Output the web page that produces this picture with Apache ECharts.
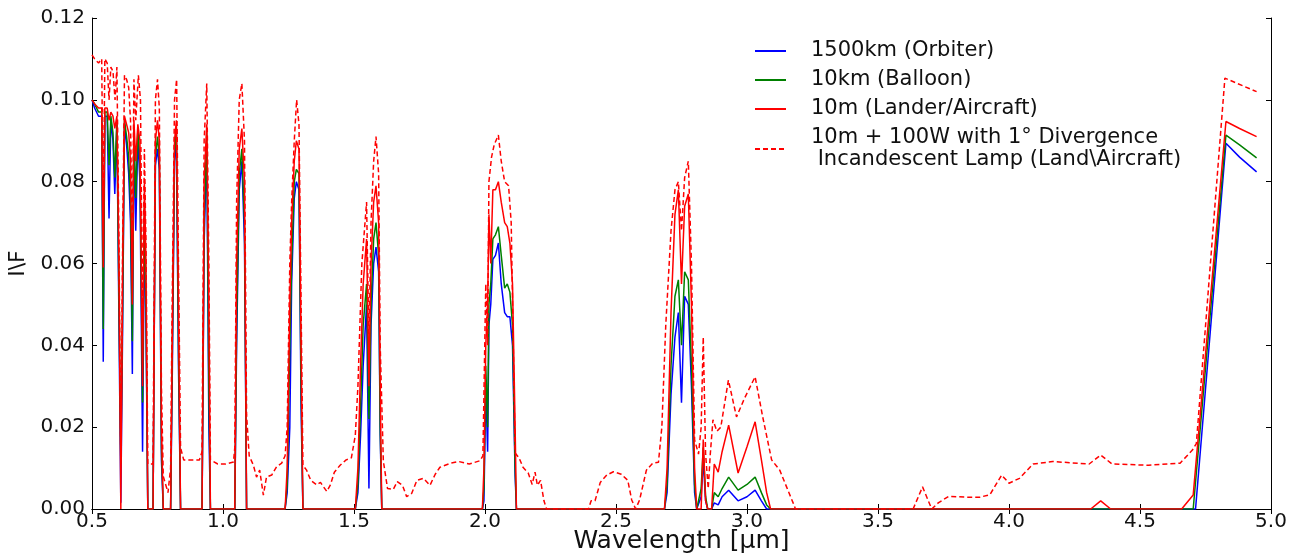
<!DOCTYPE html>
<html>
<head>
<meta charset="utf-8">
<script src="https://cdn.jsdelivr.net/npm/echarts@6/dist/echarts.min.js"></script>
<style>
html,body{margin:0;padding:0;background:#fff;}
#chart{width:1299px;height:555px;}
</style>
</head>
<body>
<div id="chart"></div>
<script>
// Wavelength grid (µm) shared by the three solid curves
const wavelengthSolid = [
0.500,0.510,0.525,0.537,0.543,0.549,0.558,0.565,0.572,0.580,
0.587,0.595,0.603,0.610,0.617,0.624,0.632,0.640,0.647,0.654,
0.660,0.667,0.675,0.683,0.693,0.700,0.706,0.713,0.733,0.742,
0.750,0.757,0.765,0.772,0.800,0.806,0.815,0.822,0.830,0.838,
0.920,0.928,0.938,0.946,0.952,1.045,1.052,1.062,1.072,1.082,
1.090,1.237,1.245,1.255,1.262,1.272,1.280,1.290,1.298,1.305,
1.505,1.515,1.525,1.535,1.548,1.557,1.565,1.575,1.584,1.594,
1.600,1.606,1.990,1.996,2.003,2.010,2.015,2.022,2.030,2.040,
2.051,2.062,2.075,2.085,2.095,2.105,2.115,2.120,2.685,2.695,
2.710,2.725,2.738,2.750,2.762,2.776,2.788,2.800,2.808,2.825,
2.833,2.842,2.850,2.865,2.875,2.890,2.905,2.930,2.966,3.000,
3.031,3.055,3.075,3.090,4.312,4.350,4.388,4.659,4.703,4.712,
4.828,4.880,4.945
];

// 1500km (Orbiter)
const orbiter = [
0.100,0.098,0.096,0.096,0.036,0.096,0.096,0.071,0.095,0.090,
0.077,0.094,0.045,0.0015,0.045,0.094,0.089,0.082,0.070,0.033,
0.092,0.068,0.091,0.080,0.014,0.070,0.045,0.000,0.000,0.084,
0.088,0.083,0.012,0.000,0.000,0.030,0.085,0.090,0.035,0.000,
0.000,0.065,0.089,0.020,0.000,0.000,0.040,0.078,0.085,0.065,
0.000,0.000,0.004,0.020,0.055,0.076,0.080,0.078,0.025,0.000,
0.000,0.004,0.018,0.035,0.050,0.005,0.045,0.060,0.064,0.058,
0.018,0.000,0.000,0.002,0.030,0.014,0.045,0.050,0.061,0.062,
0.065,0.055,0.048,0.047,0.047,0.040,0.008,0.000,0.000,0.004,
0.028,0.042,0.048,0.026,0.052,0.050,0.030,0.004,0.000,0.003,
0.012,0.002,0.000,0.000,0.0015,0.001,0.003,0.0046,0.002,0.003,
0.0046,0.002,0.000,0.000,0.000,0.000,0.000,0.000,0.000,0.000,
0.0894,0.086,0.0824
];

// 10km (Balloon)
const balloon = [
0.100,0.099,0.097,0.097,0.044,0.097,0.097,0.084,0.096,0.092,
0.081,0.095,0.050,0.011,0.050,0.095,0.091,0.086,0.075,0.041,
0.093,0.076,0.093,0.085,0.026,0.075,0.050,0.000,0.000,0.086,
0.091,0.086,0.015,0.000,0.000,0.035,0.087,0.093,0.040,0.000,
0.000,0.070,0.092,0.030,0.000,0.000,0.045,0.082,0.088,0.070,
0.000,0.000,0.006,0.040,0.060,0.080,0.083,0.082,0.030,0.000,
0.000,0.006,0.025,0.045,0.055,0.022,0.050,0.066,0.070,0.062,
0.020,0.000,0.000,0.005,0.035,0.020,0.050,0.055,0.066,0.067,
0.069,0.062,0.054,0.055,0.053,0.045,0.010,0.000,0.000,0.006,
0.035,0.052,0.056,0.040,0.058,0.056,0.035,0.006,0.000,0.005,
0.015,0.003,0.000,0.000,0.004,0.003,0.005,0.0078,0.0046,0.006,
0.0078,0.004,0.001,0.000,0.000,0.000,0.000,0.000,0.000,0.0066,
0.0914,0.089,0.0858
];

// 10m (Lander/Aircraft)
const lander = [
0.100,0.099,0.098,0.098,0.059,0.098,0.098,0.095,0.097,0.096,
0.093,0.096,0.060,0.000,0.060,0.096,0.094,0.092,0.085,0.050,
0.095,0.085,0.094,0.090,0.030,0.080,0.060,0.000,0.000,0.090,
0.095,0.090,0.020,0.000,0.000,0.040,0.090,0.095,0.050,0.000,
0.000,0.080,0.094,0.050,0.000,0.000,0.060,0.088,0.093,0.080,
0.000,0.000,0.010,0.050,0.070,0.085,0.090,0.088,0.040,0.000,
0.000,0.010,0.035,0.055,0.066,0.030,0.060,0.075,0.079,0.070,
0.030,0.000,0.000,0.010,0.040,0.050,0.072,0.060,0.078,0.078,
0.080,0.075,0.070,0.069,0.065,0.055,0.020,0.000,0.000,0.010,
0.048,0.072,0.078,0.055,0.074,0.077,0.050,0.010,0.000,0.000,
0.017,0.002,0.000,0.000,0.011,0.009,0.014,0.0205,0.0088,0.0152,
0.0213,0.012,0.004,0.000,0.000,0.002,0.000,0.000,0.0034,0.010,
0.0947,0.093,0.091
];

// Wavelength grid (µm) for the lamp-assisted curve
const wavelengthLamp = [
0.500,0.510,0.525,0.537,0.543,0.549,0.558,0.565,0.572,0.580,
0.588,0.595,0.603,0.610,0.617,0.624,0.632,0.640,0.647,0.654,
0.660,0.667,0.677,0.685,0.693,0.700,0.706,0.713,0.733,0.742,
0.750,0.757,0.765,0.772,0.790,0.800,0.806,0.815,0.823,0.830,
0.838,0.850,0.880,0.910,0.920,0.928,0.938,0.946,0.952,0.980,
1.010,1.040,1.045,1.052,1.062,1.072,1.082,1.090,1.100,1.116,
1.128,1.140,1.154,1.166,1.186,1.205,1.224,1.237,1.245,1.255,
1.262,1.272,1.281,1.290,1.298,1.305,1.319,1.335,1.358,1.372,
1.396,1.410,1.425,1.447,1.470,1.490,1.505,1.515,1.530,1.548,
1.557,1.565,1.575,1.584,1.594,1.600,1.612,1.628,1.650,1.665,
1.685,1.701,1.720,1.740,1.765,1.790,1.810,1.828,1.870,1.900,
1.940,1.981,1.992,2.003,2.010,2.015,2.025,2.035,2.051,2.062,
2.075,2.090,2.100,2.108,2.115,2.130,2.145,2.165,2.180,2.191,
2.200,2.212,2.225,2.235,2.395,2.405,2.420,2.440,2.465,2.490,
2.520,2.545,2.560,2.575,2.590,2.616,2.640,2.662,2.675,2.690,
2.710,2.725,2.738,2.750,2.762,2.776,2.788,2.800,2.815,2.825,
2.833,2.842,2.852,2.860,2.870,2.885,2.900,2.929,2.960,2.990,
3.031,3.060,3.094,3.125,3.151,3.176,3.185,3.634,3.670,3.705,
3.730,3.770,3.830,3.890,3.927,3.972,4.000,4.040,4.092,4.167,
4.306,4.350,4.393,4.533,4.653,4.700,4.715,4.824,4.945
];

// 10m + 100W with 1° Divergence Incandescent Lamp
const lampLander = [
0.111,0.110,0.109,0.110,0.070,0.110,0.109,0.100,0.108,0.107,
0.100,0.108,0.065,0.012,0.065,0.106,0.105,0.103,0.095,0.060,
0.105,0.095,0.106,0.100,0.045,0.088,0.065,0.011,0.011,0.100,
0.105,0.098,0.030,0.008,0.004,0.010,0.050,0.100,0.105,0.060,
0.015,0.012,0.012,0.012,0.014,0.090,0.104,0.060,0.012,0.011,
0.011,0.0115,0.015,0.075,0.100,0.104,0.090,0.023,0.013,0.0107,
0.0078,0.0095,0.0034,0.0078,0.0083,0.0104,0.0112,0.013,0.020,0.060,
0.075,0.090,0.100,0.094,0.050,0.0107,0.0095,0.007,0.0059,0.0065,
0.0043,0.0059,0.009,0.0107,0.012,0.0125,0.018,0.030,0.060,0.075,
0.040,0.070,0.085,0.091,0.082,0.040,0.0117,0.005,0.0048,0.0067,
0.0058,0.003,0.0038,0.007,0.0075,0.0058,0.0085,0.0102,0.0112,0.0116,
0.011,0.0118,0.013,0.055,0.040,0.080,0.086,0.089,0.0914,0.085,
0.080,0.079,0.070,0.040,0.0137,0.0125,0.0102,0.0088,0.006,0.009,
0.0058,0.007,0.002,0.000,0.000,0.002,0.002,0.0065,0.0083,0.0091,
0.0085,0.007,0.0022,0.000,0.0022,0.0095,0.0112,0.0114,0.020,0.045,
0.068,0.078,0.080,0.068,0.081,0.085,0.060,0.0169,0.0134,0.020,
0.042,0.0134,0.005,0.0135,0.0218,0.019,0.020,0.0315,0.0225,0.027,
0.0323,0.0225,0.012,0.0095,0.0054,0.0015,0.000,0.000,0.0054,0.000,
0.0015,0.0031,0.0029,0.0029,0.0035,0.0083,0.0063,0.0075,0.011,0.0116,
0.011,0.0132,0.011,0.0107,0.0112,0.0144,0.016,0.1053,0.102
];

const seriesNames = [
  '1500km (Orbiter)',
  '10km (Balloon)',
  '10m (Lander/Aircraft)',
  '10m + 100W with 1\u00b0 Divergence\n Incandescent Lamp (Land\\Aircraft)'
];
const xTicks = { min: 0.5, max: 5.0, step: 0.5 };
const yTicks = { min: 0, max: 0.12, step: 0.02 };

const FONT = 'DejaVu Sans';
const zip = (xs, ys) => xs.map((x, i) => [x, ys[i]]);

const axisLine = { show: true, lineStyle: { color: '#000', width: 1 } };
const tick = { show: true, inside: true, length: 5, lineStyle: { color: '#000', width: 1 } };

function lineSeries(name, data, color, dashed) {
  return {
    name: name,
    type: 'line',
    data: data,
    symbol: 'none',
    showSymbol: false,
    smooth: false,
    animation: false,
    lineStyle: { color: color, width: 1.5, type: dashed ? [5, 3] : 'solid' },
    itemStyle: { color: color }
  };
}

const chart = echarts.init(document.getElementById('chart'), null, { renderer: 'canvas' });
chart.setOption({
  animation: false,
  backgroundColor: '#fff',
  textStyle: { fontFamily: FONT },
  grid: { left: 92, right: 28, top: 18, bottom: 46, containLabel: false, outerBoundsMode: 'none' },
  legend: {
    orient: 'vertical',
    left: 749,
    top: 35,
    itemWidth: 31,
    itemHeight: 12,
    itemGap: 7,
    data: seriesNames.map(n => ({ name: n, itemStyle: { opacity: 0 } })),
    itemStyle: { opacity: 0 },
    textStyle: { fontFamily: FONT, fontSize: 21, lineHeight: 22, color: '#111', padding: [0, 0, 0, 20] }
  },
  xAxis: [
    {
      type: 'value', position: 'bottom',
      min: xTicks.min, max: xTicks.max, interval: xTicks.step,
      axisLine: axisLine, axisTick: tick, splitLine: { show: false },
      axisLabel: { fontFamily: FONT, fontSize: 20, color: '#111', margin: 3,
                   formatter: v => v.toFixed(1) },
      name: 'Wavelength [\u03bcm]', nameLocation: 'middle', nameGap: 20,
      nameMoveOverlap: false,
      nameTextStyle: { fontFamily: FONT, fontSize: 25, color: '#111' }
    },
    {
      type: 'value', position: 'top',
      min: xTicks.min, max: xTicks.max, interval: xTicks.step,
      axisLine: axisLine, axisTick: tick, splitLine: { show: false },
      axisLabel: { show: false }
    }
  ],
  yAxis: [
    {
      type: 'value', position: 'left',
      min: yTicks.min, max: yTicks.max, interval: yTicks.step,
      axisLine: axisLine, axisTick: tick, splitLine: { show: false },
      axisLabel: { fontFamily: FONT, fontSize: 20, color: '#111', margin: 7,
                   formatter: v => v.toFixed(2) },
      name: 'I\\F', nameLocation: 'middle', nameGap: 47,
      nameTextStyle: { fontFamily: FONT, fontSize: 22, color: '#111' }
    },
    {
      type: 'value', position: 'right',
      min: yTicks.min, max: yTicks.max, interval: yTicks.step,
      axisLine: axisLine, axisTick: tick, splitLine: { show: false },
      axisLabel: { show: false }
    }
  ],
  series: [
    lineSeries(seriesNames[0], zip(wavelengthSolid, orbiter), '#0000ff', false),
    lineSeries(seriesNames[1], zip(wavelengthSolid, balloon), '#008000', false),
    lineSeries(seriesNames[2], zip(wavelengthSolid, lander), '#ff0000', false),
    lineSeries(seriesNames[3], zip(wavelengthLamp, lampLander), '#ff0000', true)
  ]
});
</script>
</body>
</html>
